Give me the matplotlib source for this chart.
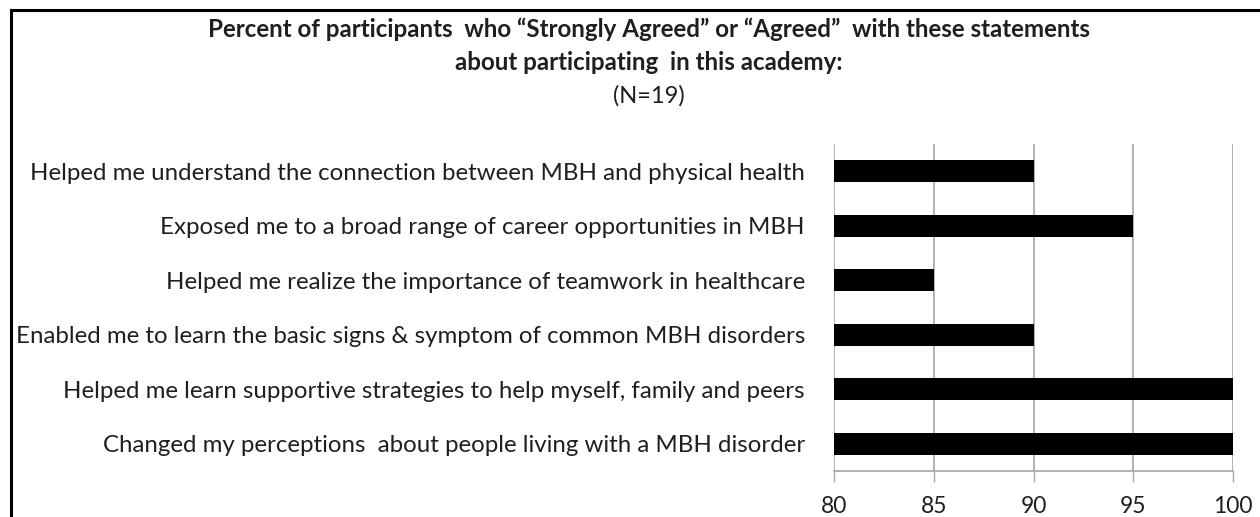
import numpy as np
import matplotlib
matplotlib.use("Agg")
import matplotlib.pyplot as plt
from matplotlib.lines import Line2D

# statements, top to bottom as shown
statements = [
    "Helped me understand the connection between MBH and physical health",
    "Exposed me to a broad range of career opportunities in MBH",
    "Helped me realize the importance of teamwork in healthcare",
    "Enabled me to learn the basic signs & symptom of common MBH disorders",
    "Helped me learn supportive strategies to help myself, family and peers",
    "Changed my perceptions  about people living with a MBH disorder",
]
percent_agree = [90, 95, 85, 90, 100, 100]
x_ticks = [80, 85, 90, 95, 100]

plt.rcParams["font.family"] = ["Lato", "DejaVu Sans"]
TXT = "#1f1f1f"
GRID = "#a6a6a6"

fig = plt.figure(figsize=(12.6, 5.17), dpi=100)
ax = fig.add_axes([0.662, 0.089, 0.3166, 0.6325])

y = np.arange(len(statements))
ax.barh(y, percent_agree, height=0.4, left=0, color="black", zorder=3)
ax.set_xlim(80, 100)
ax.set_ylim(len(statements) - 0.5, -0.5)
ax.set_xticks(x_ticks)
ax.set_yticks(y)
ax.set_yticklabels(statements, fontsize=17.3, color=TXT)
ax.tick_params(axis="y", length=0, pad=21)
ax.tick_params(axis="x", length=8, color=GRID, width=1, labelsize=16.5,
               labelcolor=TXT, pad=10)
ax.grid(axis="x", color=GRID, lw=1.2, zorder=0)
for side in ["top", "right", "left"]:
    ax.spines[side].set_visible(False)
ax.spines["bottom"].set_color(GRID)
ax.spines["bottom"].set_linewidth(1.2)

# title block
fig.text(0.515, 0.944, "Percent of participants  who \u201cStrongly Agreed\u201d or \u201cAgreed\u201d  with these statements",
         ha="center", va="center", fontsize=17.4, fontweight="bold", color=TXT)
fig.text(0.515, 0.879, "about participating  in this academy:",
         ha="center", va="center", fontsize=17.4, fontweight="bold", color=TXT)
fig.text(0.515, 0.814, "(N=19)", ha="center", va="center", fontsize=17, color=TXT)

# frame lines (top and left only, as in the source crop)
fig.add_artist(Line2D([0.0087, 1.0], [0.9797, 0.9797], color="black", lw=2.2,
                      transform=fig.transFigure))
fig.add_artist(Line2D([0.0087, 0.0087], [0.0, 0.9797], color="black", lw=2.2,
                      transform=fig.transFigure))

fig.savefig("out.png", dpi=100)
